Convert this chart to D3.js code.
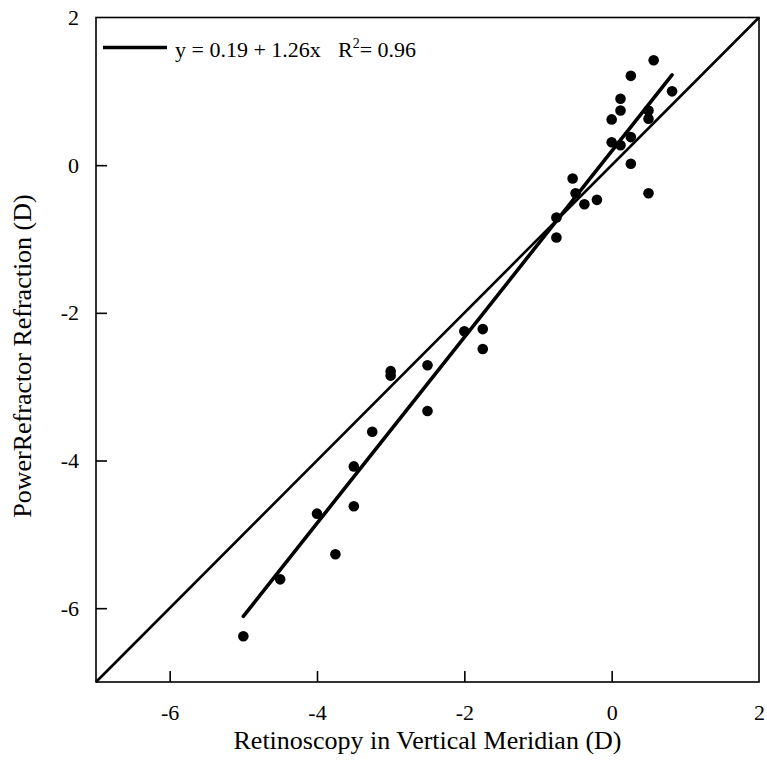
<!DOCTYPE html>
<html>
<head>
<meta charset="utf-8">
<script src="https://cdn.jsdelivr.net/npm/d3@7"></script>
<style>
  body { margin: 0; background: #fff; }
  svg text { font-family: "Times New Roman", "Liberation Serif", Times, "DejaVu Serif", serif; fill: #000; }
</style>
</head>
<body>
<div id="chart"></div>
<script>
// Retinoscopy (x) vs PowerRefractor (y), dioptres
const retinoscopy = [
  -5.0, -4.5, -3.75, -4.0, -3.5, -3.5, -3.25,
  -3.0, -3.0, -2.5, -2.5, -2.0, -1.75, -1.75,
  -0.75, -0.75, -0.53, -0.49, -0.37, -0.2,
  0.0, 0.0, 0.12, 0.12, 0.12, 0.26, 0.26, 0.26, 0.5, 0.5, 0.5, 0.57, 0.82
];
const powerRefractor = [
  -6.38, -5.61, -5.27, -4.72, -4.62, -4.08, -3.61,
  -2.79, -2.85, -2.71, -3.33, -2.25, -2.22, -2.49,
  -0.71, -0.98, -0.18, -0.38, -0.53, -0.47,
  0.62, 0.31, 0.90, 0.74, 0.27, 1.21, 0.38, 0.02, 0.74, 0.63, -0.38, 1.42, 1.0
];
const xTicks = [-6, -4, -2, 0, 2];
const yTicks = [-6, -4, -2, 0, 2];
const fitIntercept = 0.19, fitSlope = 1.26;
const fitRange = [-5.0, 0.82];
const legendText = "y = 0.19 + 1.26x";

const serif = '"Times New Roman", "Liberation Serif", Times, serif';
const W = 767, H = 762;
const margin = { top: 17.5, right: 8, bottom: 80, left: 96 };
const w = W - margin.left - margin.right;
const h = H - margin.top - margin.bottom;

const svg = d3.select('#chart').append('svg')
  .attr('width', W).attr('height', H)
  .append('g')
  .attr('transform', `translate(${margin.left},${margin.top})`);

const x = d3.scaleLinear().domain([-7, 2]).range([0, w]);
const y = d3.scaleLinear().domain([-7, 2]).range([h, 0]);

// Frame
svg.append('rect')
  .attr('width', w).attr('height', h)
  .attr('fill', 'none').attr('stroke', '#000').attr('stroke-width', 1.6);

// Axes: inward ticks, plain hyphen for minus
const fmt = d => String(d);
const xAxis = svg.append('g')
  .attr('transform', `translate(0,${h})`)
  .call(d3.axisBottom(x).tickValues(xTicks).tickFormat(fmt).tickSizeInner(-11).tickSizeOuter(0).tickPadding(22));
const yAxis = svg.append('g')
  .call(d3.axisLeft(y).tickValues(yTicks).tickFormat(fmt).tickSizeInner(-11).tickSizeOuter(0).tickPadding(17));
[xAxis, yAxis].forEach(a => {
  a.attr('font-family', serif).attr('font-size', 22);
  a.select('.domain').remove();
  a.selectAll('line').attr('stroke', '#000').attr('stroke-width', 1.6);
  a.selectAll('text').style('font-family', serif).style('font-size', '22px');
});
// no tick mark at the top-left "2" or at the right "2"
yAxis.selectAll('.tick').filter(d => d === 2).select('line').remove();
xAxis.selectAll('.tick').filter(d => d === 2).select('line').remove();

// Identity line
svg.append('line')
  .attr('x1', x(-7)).attr('y1', y(-7))
  .attr('x2', x(2)).attr('y2', y(2))
  .attr('stroke', '#000').attr('stroke-width', 2.6);

// Regression line
svg.append('line')
  .attr('x1', x(fitRange[0])).attr('y1', y(fitIntercept + fitSlope * fitRange[0]))
  .attr('x2', x(fitRange[1])).attr('y2', y(fitIntercept + fitSlope * fitRange[1]))
  .attr('stroke', '#000').attr('stroke-width', 3.6).attr('stroke-linecap', 'round');

// Points
svg.selectAll('circle.pt')
  .data(retinoscopy.map((d, i) => [d, powerRefractor[i]]))
  .join('circle')
  .attr('class', 'pt')
  .attr('cx', d => x(d[0])).attr('cy', d => y(d[1]))
  .attr('r', 5.3)
  .attr('fill', '#000');

// Legend
svg.append('line')
  .attr('x1', 7).attr('x2', 71).attr('y1', 30).attr('y2', 30)
  .attr('stroke', '#000').attr('stroke-width', 3.6);
svg.append('text')
  .attr('x', 79).attr('y', 39)
  .style('font-family', serif).style('font-size', '22px')
  .text(legendText);
const r2 = svg.append('text')
  .attr('x', 242).attr('y', 39)
  .style('font-family', serif).style('font-size', '22px');
r2.append('tspan').text('R');
r2.append('tspan').style('font-size', '14px').attr('dy', -9).text('2');
r2.append('tspan').attr('dy', 9).text('= 0.96');

// Axis titles
svg.append('text')
  .attr('x', w / 2).attr('y', h + 66.5)
  .attr('text-anchor', 'middle')
  .style('font-family', serif).style('font-size', '26px')
  .text('Retinoscopy in Vertical Meridian (D)');

svg.append('text')
  .attr('transform', `translate(${-65},${356 - margin.top}) rotate(-90)`)
  .attr('text-anchor', 'middle')
  .style('font-family', serif).style('font-size', '26px')
  .text('PowerRefractor Refraction (D)');
</script>
</body>
</html>
